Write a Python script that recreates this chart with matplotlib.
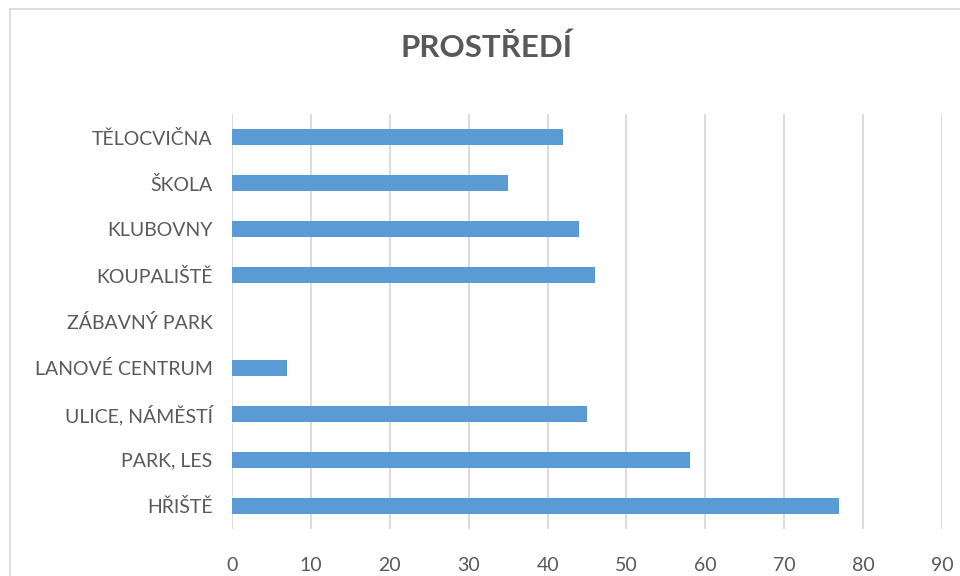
import matplotlib.pyplot as plt
from matplotlib.lines import Line2D

# data (bottom to top, like in the Excel chart)
mista = ['HŘIŠTĚ', 'PARK, LES', 'ULICE, NÁMĚSTÍ', 'LANOVÉ CENTRUM', 'ZÁBAVNÝ PARK',
         'KOUPALIŠTĚ', 'KLUBOVNY', 'ŠKOLA', 'TĚLOCVIČNA']
pocty = [77, 58, 45, 7, 0, 46, 44, 35, 42]
osa_x = [0, 10, 20, 30, 40, 50, 60, 70, 80, 90]

plt.rcParams['font.family'] = ['Lato', 'DejaVu Sans']
seda = '#595959'

fig = plt.figure(figsize=(9.6, 5.76), dpi=100)
ax = fig.add_axes([0.2417, 0.0816, 0.7396, 0.7205])

ax.barh(mista, pocty, height=0.35, color='#5B9BD5', linewidth=0, zorder=3)

ax.set_xlim(0, 90)
ax.set_ylim(-0.5, len(mista) - 0.5)
ax.set_xticks(osa_x)
ax.grid(axis='x', color='#D9D9D9', linewidth=1.3, zorder=0)
for s in ax.spines.values():
    s.set_visible(False)
ax.tick_params(axis='both', length=0, colors=seda, labelsize=14)
ax.tick_params(axis='y', pad=14)
ax.tick_params(axis='x', pad=20)

fig.text(0.507, 0.901, 'PROSTŘEDÍ', ha='center', va='baseline', fontsize=22.5,
         fontweight='bold', color=seda)

# chart frame (only left and top edges are visible in the crop)
fig.add_artist(Line2D([0.0104, 0.0104], [0, 0.984], color='#D9D9D9', linewidth=1.2))
fig.add_artist(Line2D([0.0104, 1], [0.984, 0.984], color='#D9D9D9', linewidth=1.2))

fig.savefig('out.png', dpi=100)
